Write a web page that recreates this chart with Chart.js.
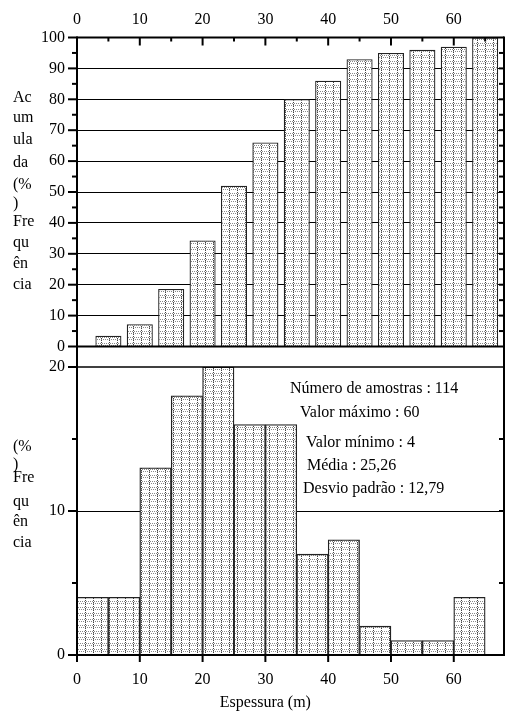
<!DOCTYPE html>
<html>
<head>
<meta charset="utf-8">
<script src="https://cdn.jsdelivr.net/npm/chart.js@4/dist/chart.umd.min.js"></script>
<style>
  html, body { margin: 0; padding: 0; background: #fff; }
  #wrap { position: relative; width: 507px; height: 711px; }
  canvas { position: absolute; left: 0; top: 0; }
</style>
</head>
<body>
<div id="wrap">
  <canvas id="cumChart" width="507" height="711"></canvas>
  <canvas id="freqChart" width="507" height="711"></canvas>
</div>
<script>
// dados - frequência acumulada (painel superior)
const cumPositions = [5, 10, 15, 20, 25, 30, 35, 40, 45, 50, 55, 60, 65];
const cumValues = [3.5, 7.2, 18.6, 34.3, 52, 66, 80, 86, 93, 95, 96, 97, 100];

// dados - histograma (painel inferior)
const binCenters = [2.5, 7.5, 12.5, 17.5, 22.5, 27.5, 32.5, 37.5, 42.5, 47.5, 52.5, 57.5, 62.5];
const freqValues = [4, 4, 13, 18, 20, 16, 16, 7, 8, 2, 1, 1, 4];

// textos
const topLabelLines = ['Ac', 'um', 'ula', 'da', '(%', ')', 'Fre', 'qu', 'ên', 'cia'];
const bottomLabelLines = ['(%', ')', 'Fre', 'qu', 'ên', 'cia'];
const statsLines = [
    'Número de amostras : 114',
    'Valor máximo : 60',
    'Valor mínimo : 4',
    'Média : 25,26',
    'Desvio padrão : 12,79'
];
const xTitle = 'Espessura (m)';

// layout
const FONT = '16px "Liberation Serif", "Times New Roman", serif';
const topLabelY = [98, 118, 140, 163, 185, 204, 222, 243, 264, 285];
const bottomLabelY = [447, 465, 478, 502, 522, 543];
const statsPos = [[290, 389], [300, 413], [306, 443], [307, 466], [303, 489]];
const GAP_BOTTOM = 367;

function makePattern() {
    const c = document.createElement('canvas');
    c.width = 8; c.height = 6;
    const g = c.getContext('2d');
    g.fillStyle = '#fff';
    g.fillRect(0, 0, 8, 6);
    g.fillStyle = '#8a8a8a';
    for (let x = 0; x < 8; x += 2) g.fillRect(x, 1, 1, 1);
    for (let x = 1; x < 8; x += 2) g.fillRect(x, 3, 1, 1);
    g.fillStyle = '#444';
    for (let y = 0; y < 6; y += 2) g.fillRect(5, y, 1, 1);
    return g.createPattern(c, 'repeat');
}
const pattern = makePattern();

function seg(ctx, x1, y1, x2, y2) {
    ctx.beginPath();
    ctx.moveTo(x1, y1);
    ctx.lineTo(x2, y2);
    ctx.stroke();
}

const fontOpt = { family: '"Liberation Serif", "Times New Roman", serif', size: 16 };

// molduras e marcas do painel superior
const topFrame = {
    id: 'topFrame',
    afterDatasetsDraw(chart) {
        const { ctx, chartArea: a, scales: { x, y } } = chart;
        ctx.save();
        ctx.strokeStyle = '#000';
        ctx.lineWidth = 2;
        seg(ctx, a.left, a.top, a.right, a.top);
        seg(ctx, a.left, a.bottom, a.right, a.bottom);
        seg(ctx, a.left, a.top - 1, a.left, GAP_BOTTOM);
        seg(ctx, a.right, a.top - 1, a.right, GAP_BOTTOM);
        for (let v = 0; v <= 65; v += 5) {
            const px = x.getPixelForValue(v);
            seg(ctx, px, a.top, px, a.top + (v % 10 === 0 ? 8 : 4));
        }
        for (let v = 0; v <= 100; v += 5) {
            const py = y.getPixelForValue(v);
            seg(ctx, a.left - (v % 10 === 0 ? 9 : 5), py, a.left, py);
            if (v > 0 && v < 100) seg(ctx, a.right - 5, py, a.right, py);
        }
        ctx.fillStyle = '#000';
        ctx.font = FONT;
        ctx.textAlign = 'left';
        ctx.textBaseline = 'middle';
        topLabelLines.forEach((t, i) => ctx.fillText(t, 13, topLabelY[i]));
        ctx.restore();
    }
};

// molduras, marcas e textos do painel inferior
const bottomFrame = {
    id: 'bottomFrame',
    afterDatasetsDraw(chart) {
        const { ctx, chartArea: a, scales: { x, y } } = chart;
        ctx.save();
        ctx.strokeStyle = '#000';
        ctx.lineWidth = 2;
        seg(ctx, a.left, a.bottom, a.right, a.bottom);
        seg(ctx, a.left, a.top, a.left, a.bottom + 1);
        seg(ctx, a.right, a.top, a.right, a.bottom + 1);
        ctx.lineWidth = 1.5;
        seg(ctx, a.left, a.top, a.right, a.top);
        ctx.lineWidth = 2;
        for (let v = 0; v <= 20; v += 5) {
            const py = y.getPixelForValue(v);
            seg(ctx, a.left - (v % 10 === 0 ? 9 : 5), py, a.left, py);
            if (v > 0 && v < 20) seg(ctx, a.right - 5, py, a.right, py);
        }
        for (let v = 0; v <= 60; v += 10) {
            const px = x.getPixelForValue(v);
            seg(ctx, px, a.bottom, px, a.bottom + 7);
        }
        ctx.fillStyle = '#000';
        ctx.font = FONT;
        ctx.textAlign = 'left';
        ctx.textBaseline = 'middle';
        bottomLabelLines.forEach((t, i) => ctx.fillText(t, 13, bottomLabelY[i]));
        statsLines.forEach((t, i) => ctx.fillText(t, statsPos[i][0], statsPos[i][1]));
        ctx.textAlign = 'center';
        const cx = (x.getPixelForValue(0) + x.getPixelForValue(60)) / 2;
        ctx.fillText(xTitle, cx, 703);
        ctx.restore();
    }
};

new Chart(document.getElementById('cumChart'), {
    type: 'bar',
    data: {
        datasets: [{
            data: cumPositions.map((p, i) => ({ x: p, y: cumValues[i] })),
            backgroundColor: pattern,
            borderColor: '#222',
            borderWidth: 1.3,
            barPercentage: 1,
            categoryPercentage: 0.83
        }]
    },
    options: {
        responsive: false,
        animation: false,
        layout: { padding: { left: 0, right: 3, top: 0, bottom: 711 - 346.5 } },
        plugins: { legend: { display: false }, tooltip: { enabled: false } },
        scales: {
            x: {
                type: 'linear',
                position: 'top',
                min: 0,
                max: 68,
                offset: false,
                grid: { display: false, drawTicks: false },
                border: { display: false },
                ticks: { stepSize: 10, includeBounds: false, padding: 8, color: '#000', font: fontOpt, maxRotation: 0 },
                afterFit(scale) { scale.height = 37.5; }
            },
            y: {
                min: 0,
                max: 100,
                grid: {
                    color: c => (c.tick.value > 0 && c.tick.value < 100 ? '#000' : 'rgba(0,0,0,0)'),
                    lineWidth: 1,
                    drawTicks: false
                },
                border: { display: false },
                ticks: { stepSize: 10, padding: 12, color: '#000', font: fontOpt, autoSkip: false },
                afterFit(scale) { scale.width = 77; }
            }
        }
    },
    plugins: [topFrame]
});

new Chart(document.getElementById('freqChart'), {
    type: 'bar',
    data: {
        datasets: [{
            data: binCenters.map((p, i) => ({ x: p, y: freqValues[i] })),
            backgroundColor: pattern,
            borderColor: '#222',
            borderWidth: 1.3,
            barPercentage: 1,
            categoryPercentage: 1
        }]
    },
    options: {
        responsive: false,
        animation: false,
        layout: { padding: { left: 0, right: 3, top: 367, bottom: 0 } },
        plugins: { legend: { display: false }, tooltip: { enabled: false } },
        scales: {
            x: {
                type: 'linear',
                position: 'bottom',
                min: 0,
                max: 68,
                offset: false,
                grid: { display: false, drawTicks: false },
                border: { display: false },
                ticks: { stepSize: 10, includeBounds: false, padding: 15, color: '#000', font: fontOpt, maxRotation: 0 },
                afterFit(scale) { scale.height = 56; }
            },
            y: {
                min: 0,
                max: 20,
                grid: {
                    color: c => (c.tick.value === 10 ? '#000' : 'rgba(0,0,0,0)'),
                    lineWidth: 1,
                    drawTicks: false
                },
                border: { display: false },
                ticks: { stepSize: 10, padding: 12, color: '#000', font: fontOpt, autoSkip: false },
                afterFit(scale) { scale.width = 77; }
            }
        }
    },
    plugins: [bottomFrame]
});
</script>
</body>
</html>
